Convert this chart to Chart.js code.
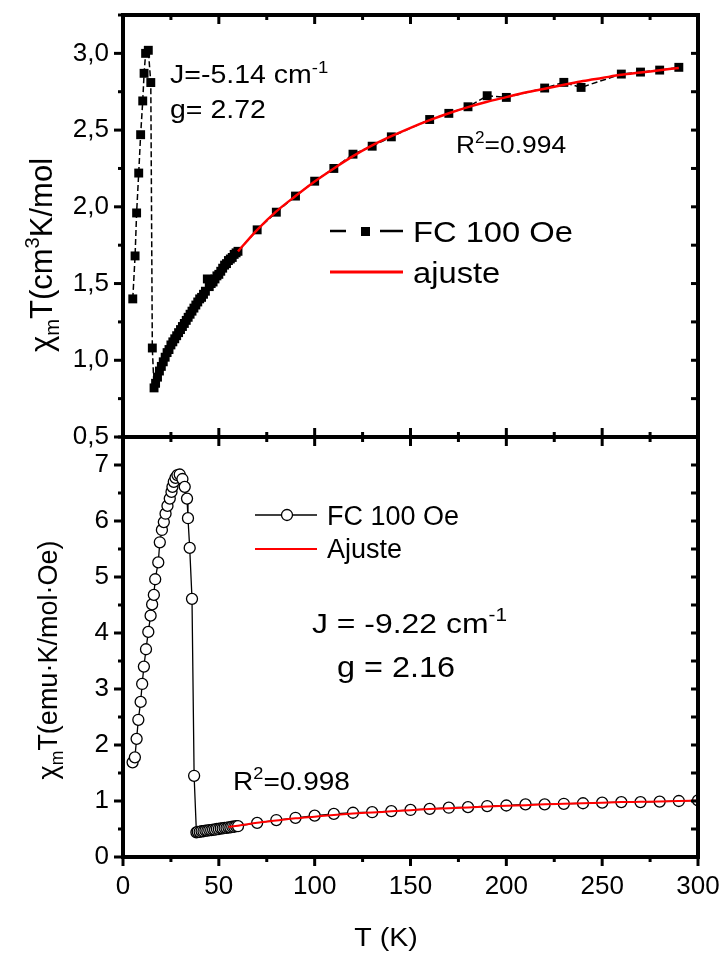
<!DOCTYPE html>
<html>
<head>
<meta charset="utf-8">
<script src="https://cdn.jsdelivr.net/npm/chart.js@4.4.0/dist/chart.umd.min.js"></script>
<style>
html, body { margin: 0; padding: 0; background: #fff; }
</style>
</head>
<body>
<canvas id="chart" width="726" height="956"></canvas>
<script>
// upper panel: FC 100 Oe, chiT in cm3 K/mol
const tTop = [5.1, 6.3, 7.1, 8.2, 9.2, 10.3, 11.0, 11.8, 13.2, 14.5, 15.3, 16.2,
  17, 18, 19, 20, 21, 22, 23, 24, 25, 26, 27, 28, 29, 30, 31, 32, 33, 34, 35, 36, 37, 38,
  39, 40, 41, 42, 43, 44, 45, 46, 47, 48, 49, 50, 51, 52, 53, 54, 55, 56, 57, 58, 59, 60,
  70, 80, 90, 100, 110, 120, 130, 140, 160, 170, 180, 190, 200, 220, 230, 239, 260, 270, 280, 290];
const chiTop = [1.40, 1.68, 1.96, 2.22, 2.47, 2.69, 2.87, 3.00, 3.02, 2.81, 1.08, 0.82,
  0.85, 0.89, 0.93, 0.96, 0.99, 1.02, 1.05, 1.07, 1.10, 1.12, 1.14, 1.16, 1.18, 1.20, 1.22, 1.24, 1.26, 1.28, 1.30, 1.32, 1.34, 1.36,
  1.38, 1.40, 1.41, 1.43, 1.45, 1.53, 1.48, 1.50, 1.51, 1.53, 1.55, 1.56, 1.58, 1.60, 1.62, 1.63, 1.65, 1.66, 1.67, 1.69, 1.70, 1.71,
  1.85, 1.965, 2.07, 2.167, 2.25, 2.343, 2.395, 2.456, 2.569, 2.609, 2.652, 2.724, 2.713, 2.774, 2.811, 2.778, 2.865, 2.878, 2.891, 2.909];
const tFitTop = [60, 70, 80, 90, 100, 110, 120, 130, 140, 150, 160, 170, 180, 190, 200, 210, 220, 230, 240, 250, 260, 270, 280, 290];
const chiFitTop = [1.71, 1.85, 1.97, 2.07, 2.165, 2.25, 2.33, 2.40, 2.46, 2.515, 2.565, 2.61, 2.65, 2.685, 2.715, 2.745, 2.77, 2.795, 2.82, 2.84, 2.86, 2.875, 2.89, 2.905];

// lower panel: FC 100 Oe, chiT in emu K/mol Oe
const tBot = [5.0, 6.2, 7.1, 8.0, 9.2, 10.0, 10.9, 12.0, 13.2, 14.4, 15.2, 16.1, 16.8, 18.4, 19.2, 20.3, 21.3, 22.2, 23.2, 24.4,
  25.3, 25.8, 26.5, 27.4, 28.4, 29.6, 31.0, 32.2, 33.4, 33.9, 34.8, 36.0, 37.1, 38.3,
  39, 40, 41, 42, 43, 44, 45, 46, 47, 48, 49, 50, 51, 52, 53, 54, 55, 56, 57, 58, 59, 60,
  70, 80, 90, 100, 110, 120, 130, 140, 150, 160, 170, 180, 190, 200, 210, 220, 230, 240, 250, 260, 270, 280, 290, 300];
const chiBot = [1.69, 1.78, 2.11, 2.45, 2.77, 3.09, 3.40, 3.71, 4.02, 4.31, 4.51, 4.68, 4.96, 5.26, 5.62, 5.84, 5.98, 6.13, 6.27, 6.40,
  6.52, 6.61, 6.70, 6.77, 6.82, 6.83, 6.75, 6.61, 6.40, 6.05, 5.52, 4.61, 1.45, 0.44,
  0.45, 0.45, 0.46, 0.46, 0.47, 0.47, 0.48, 0.48, 0.49, 0.49, 0.50, 0.50, 0.51, 0.51, 0.52, 0.52, 0.53, 0.53, 0.54, 0.54, 0.55, 0.55,
  0.61, 0.66, 0.70, 0.74, 0.77, 0.79, 0.80, 0.82, 0.84, 0.86, 0.88, 0.89, 0.91, 0.92, 0.94, 0.94, 0.95, 0.96, 0.97, 0.98, 0.98, 0.99, 1.00, 1.01];
const tFitBot = [55, 60, 70, 80, 90, 100, 110, 120, 130, 140, 150, 160, 170, 180, 190, 200, 210, 220, 230, 240, 250, 260, 270, 280, 290, 300];
const chiFitBot = [0.54, 0.56, 0.61, 0.65, 0.69, 0.72, 0.75, 0.775, 0.795, 0.815, 0.835, 0.855, 0.87, 0.885, 0.90, 0.915, 0.925, 0.94, 0.95, 0.96, 0.97, 0.98, 0.985, 0.99, 1.0, 1.005];

// tick labels
const xTicks = [0, 50, 100, 150, 200, 250, 300];
const yTopTicks = [0.5, 1.0, 1.5, 2.0, 2.5, 3.0];
const yBotTicks = [0, 1, 2, 3, 4, 5, 6, 7];

const FONT = '"Liberation Sans", Arial, sans-serif';
const pts = (xs, ys) => xs.map((x, i) => ({ x: x, y: ys[i] }));

// text with sub/superscripts, optionally stretched horizontally
function rich(ctx, x, y, parts, size, stretch, rot) {
  ctx.save();
  ctx.translate(x, y);
  if (rot) ctx.rotate(rot);
  ctx.scale(stretch, 1);
  ctx.fillStyle = '#000';
  ctx.textBaseline = 'alphabetic';
  ctx.textAlign = 'left';
  const fontOf = k => (k ? size * 0.65 : size) + 'px ' + FONT;
  let w = 0;
  parts.forEach(p => { ctx.font = fontOf(p[1]); w += ctx.measureText(p[0]).width; });
  let cx = rot ? -w / 2 : 0;
  parts.forEach(p => {
    ctx.font = fontOf(p[1]);
    const dy = p[1] === 1 ? -size * 0.42 : p[1] === -1 ? size * 0.22 : 0;
    ctx.fillText(p[0], cx, dy);
    cx += ctx.measureText(p[0]).width;
  });
  ctx.restore();
}

function seg(ctx, x1, y1, x2, y2) {
  ctx.beginPath();
  ctx.moveTo(x1, y1);
  ctx.lineTo(x2, y2);
  ctx.stroke();
}

function drawFrame(chart) {
  const ctx = chart.ctx;
  const a = chart.chartArea;
  const xs = chart.scales.x, yt = chart.scales.yTop, yb = chart.scales.yBot;
  const mid = yt.bottom;
  ctx.save();
  ctx.setLineDash([]);
  ctx.strokeStyle = '#000';
  ctx.lineWidth = 4;
  ctx.beginPath();
  ctx.rect(a.left, a.top, a.right - a.left, a.bottom - a.top);
  ctx.stroke();
  seg(ctx, a.left, mid, a.right, mid);

  ctx.lineWidth = 3;
  for (let v = 0; v <= 300; v += 25) {
    const px = xs.getPixelForValue(v);
    const len = v % 50 === 0 ? 9 : 5;
    seg(ctx, px, a.bottom, px, a.bottom + len);
    seg(ctx, px, a.top, px, a.top + len);
    seg(ctx, px, mid - len, px, mid + len);
  }
  for (let v = 0.5; v <= 3.25; v += 0.25) {
    const py = yt.getPixelForValue(v);
    const len = Math.abs(v * 2 - Math.round(v * 2)) < 1e-6 ? 9 : 5;
    seg(ctx, a.left - len, py, a.left, py);
    seg(ctx, a.right - 7, py, a.right, py);
  }
  for (let v = 0; v <= 7.5; v += 0.5) {
    const py = yb.getPixelForValue(v);
    const len = v % 1 === 0 ? 9 : 5;
    seg(ctx, a.left - len, py, a.left, py);
    seg(ctx, a.right - 7, py, a.right, py);
  }
  ctx.restore();
}

function drawLabels(chart) {
  const ctx = chart.ctx;
  ctx.save();
  ctx.setLineDash([]);
  // top legend
  ctx.strokeStyle = '#000';
  ctx.lineWidth = 2.5;
  seg(ctx, 330, 231, 346, 231);
  seg(ctx, 380, 231, 403, 231);
  ctx.fillStyle = '#000';
  ctx.fillRect(361, 227, 9, 9);
  ctx.strokeStyle = '#ff0000';
  ctx.lineWidth = 3;
  seg(ctx, 330, 272, 403, 272);
  rich(ctx, 413, 242, [['FC 100 Oe', 0]], 30, 1.09);
  rich(ctx, 413, 283, [['ajuste', 0]], 30, 1.09);

  // bottom legend
  ctx.strokeStyle = '#000';
  ctx.lineWidth = 1.5;
  seg(ctx, 255, 515, 317, 515);
  ctx.beginPath();
  ctx.arc(287, 515, 5.5, 0, Math.PI * 2);
  ctx.fillStyle = '#fff';
  ctx.fill();
  ctx.lineWidth = 1.3;
  ctx.stroke();
  ctx.strokeStyle = '#ff0000';
  ctx.lineWidth = 2;
  seg(ctx, 255, 549, 317, 549);
  rich(ctx, 327, 525, [['FC 100 Oe', 0]], 27, 1.0);
  rich(ctx, 327, 558, [['Ajuste', 0]], 27, 1.0);

  // annotations
  rich(ctx, 170, 83, [['J=-5.14 cm', 0], ['-1', 1]], 25, 1.14);
  rich(ctx, 170, 118, [['g= 2.72', 0]], 25, 1.14);
  rich(ctx, 456, 153, [['R', 0], ['2', 1], ['=0.994', 0]], 24, 1.1);
  rich(ctx, 312, 633, [['J = -9.22 cm', 0], ['-1', 1]], 28, 1.14);
  rich(ctx, 337, 677, [['g = 2.16', 0]], 30, 1.08);
  rich(ctx, 233, 790, [['R', 0], ['2', 1], ['=0.998', 0]], 25.5, 1.1);

  // axis titles
  rich(ctx, 52, 255, [['\u03C7', 0], ['m', -1], ['T(cm', 0], ['3', 1], ['K/mol', 0]], 31, 1, -Math.PI / 2);
  rich(ctx, 57, 660, [['\u03C7', 0], ['m', -1], ['T(emu\u00B7K/mol\u00B7Oe)', 0]], 27, 1, -Math.PI / 2);
  ctx.translate(386, 946);
  ctx.scale(1.1, 1);
  ctx.font = '26px ' + FONT;
  ctx.fillStyle = '#000';
  ctx.textAlign = 'center';
  ctx.fillText('T (K)', 0, 0);
  ctx.restore();
}

const frame = {
  id: 'frame',
  afterDraw(chart) {
    drawFrame(chart);
    drawLabels(chart);
  }
};

const tickFont = { family: FONT, size: 26 };
const noPad = s => { s.paddingTop = 0; s.paddingBottom = 0; s.paddingLeft = 0; s.paddingRight = 0; };

new Chart(document.getElementById('chart'), {
  type: 'line',
  data: {
    datasets: [
      {
        label: 'ajuste',
        data: pts(tFitTop, chiFitTop),
        yAxisID: 'yTop',
        borderColor: '#ff0000',
        borderWidth: 2.5,
        pointRadius: 0,
        cubicInterpolationMode: 'monotone',
        order: 0
      },
      {
        label: 'FC 100 Oe',
        data: pts(tTop, chiTop),
        yAxisID: 'yTop',
        borderColor: '#000',
        borderWidth: 1.5,
        borderDash: [6, 3],
        pointStyle: 'rect',
        pointRadius: 6.3,
        pointBorderWidth: 0,
        pointBackgroundColor: '#000',
        tension: 0,
        order: 1
      },
      {
        label: 'Ajuste',
        data: pts(tFitBot, chiFitBot),
        yAxisID: 'yBot',
        borderColor: '#ff0000',
        borderWidth: 2,
        pointRadius: 0,
        cubicInterpolationMode: 'monotone',
        order: 0
      },
      {
        label: 'FC 100 Oe',
        data: pts(tBot, chiBot),
        yAxisID: 'yBot',
        borderColor: '#000',
        borderWidth: 1.3,
        pointStyle: 'circle',
        pointRadius: 5.5,
        pointBorderWidth: 1.3,
        pointBorderColor: '#000',
        pointBackgroundColor: '#fff',
        tension: 0,
        clip: 0,
        order: 1
      }
    ]
  },
  options: {
    responsive: false,
    devicePixelRatio: 1,
    animation: false,
    layout: { padding: { top: 15, right: 28, left: 0, bottom: 0 } },
    plugins: { legend: { display: false }, tooltip: { enabled: false } },
    scales: {
      x: {
        type: 'linear',
        min: 0,
        max: 300,
        afterBuildTicks: s => { s.ticks = xTicks.map(v => ({ value: v })); },
        afterFit: s => { s.height = 99; noPad(s); },
        grid: { display: false, drawTicks: false },
        border: { display: false },
        ticks: { color: '#000', font: tickFont, padding: 14, maxRotation: 0, autoSkip: false }
      },
      yBot: {
        type: 'linear',
        position: 'left',
        stack: 'panels',
        stackWeight: 420,
        min: 0,
        max: 7.5,
        afterBuildTicks: s => { s.ticks = yBotTicks.map(v => ({ value: v })); },
        afterFit: s => { s.width = 123; noPad(s); },
        grid: { display: false, drawTicks: false },
        border: { display: false },
        ticks: { color: '#000', font: tickFont, padding: 14, autoSkip: false }
      },
      yTop: {
        type: 'linear',
        position: 'left',
        stack: 'panels',
        stackWeight: 422,
        min: 0.5,
        max: 3.25,
        afterBuildTicks: s => { s.ticks = yTopTicks.map(v => ({ value: v })); },
        afterFit: s => { s.width = 123; noPad(s); },
        grid: { display: false, drawTicks: false },
        border: { display: false },
        ticks: { color: '#000', font: tickFont, padding: 14, autoSkip: false,
          callback: v => v.toFixed(1).replace('.', ',') }
      }
    }
  },
  plugins: [frame]
});
</script>
</body>
</html>
